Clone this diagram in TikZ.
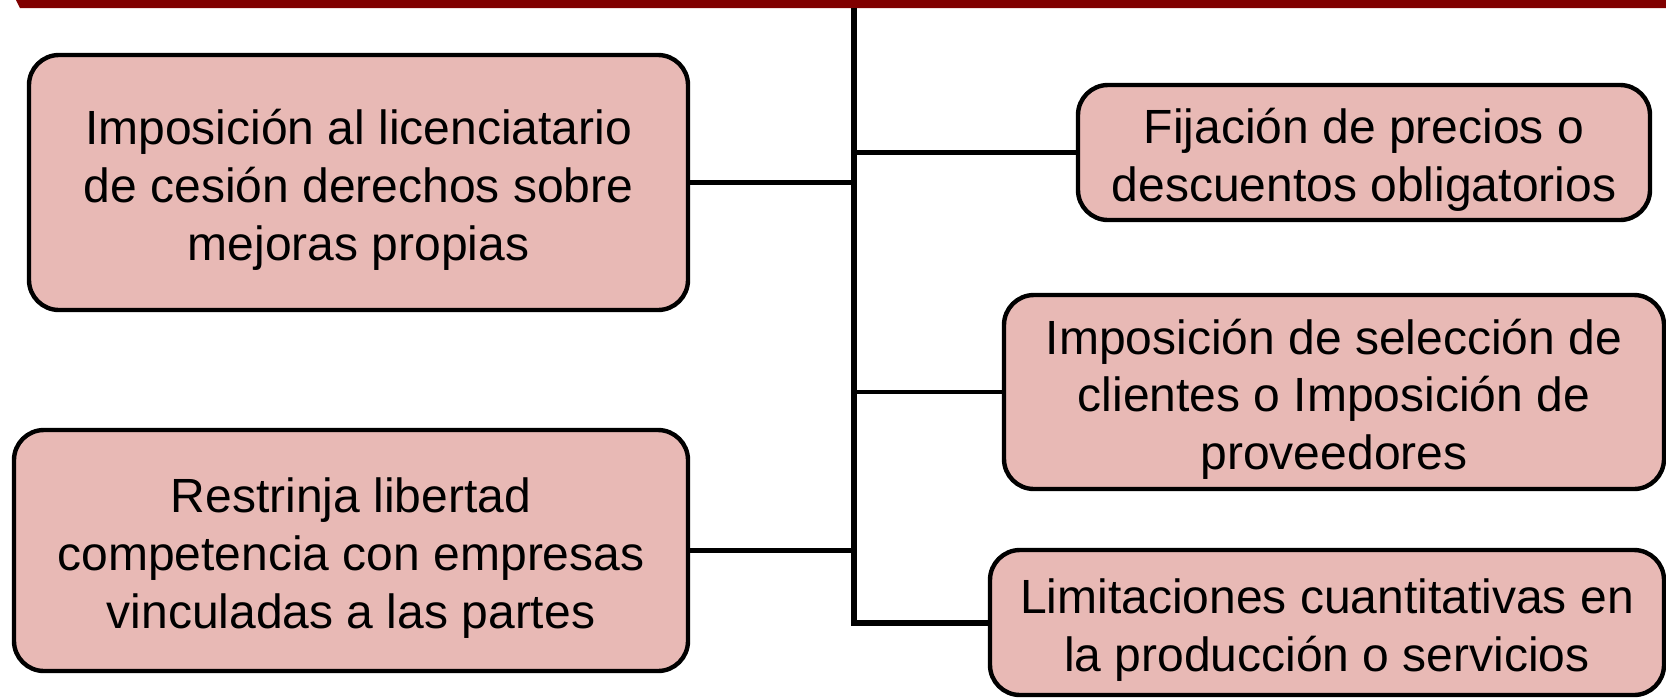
\documentclass[tikz,border=0pt]{standalone}
\usepackage{fontspec}
\setmainfont{Liberation Sans}
\usetikzlibrary{calc}
\definecolor{boxpink}{RGB}{232,185,181}
\definecolor{barred}{RGB}{128,0,0}
\tikzstyle{item}=[draw=black,line width=2.2pt,fill=boxpink,rounded corners=15pt,align=center,font=\fontsize{24}{28.8}\selectfont,inner sep=0pt]
\tikzstyle{branch} = [draw,line width=2.2pt]
\tikzstyle{trunk} = [draw,line width=3pt]
% first and last line get fixed height / depth, so the text sits a bit low
\newcommand{\topline}{\rule{0pt}{25.5pt}}
\newcommand{\botline}{\rule[-5.6pt]{0pt}{5.6pt}}

\begin{document}
\begin{tikzpicture}[x=0.5pt, y=-0.5pt]
\useasboundingbox (0,0) rectangle (1666,698);

% bar on top
\fill[barred] (16,0) -- (1666,0) -- (1666,8) -- (20,8) -- cycle;

% left boxes
\foreach \pos/\w/\h/\name/\txt in {{(358.5,182.5)/659/255/mej/{Imposición al licenciatario\\de cesión derechos sobre\\mejoras propias}},
    {(351,550.5)/674/241/lib/{Restrinja libertad\\competencia con empresas\\vinculadas a las partes}}}
    \node[item,minimum width=\w*0.5pt,minimum height=\h*0.5pt] (\name) at \pos {\topline\txt\botline};

% right boxes
\foreach \pos/\w/\h/\name/\txt in {{(1364,152.5)/572/135/fij/{Fijación de precios o\\descuentos obligatorios}},
    {(1334,392)/660/194/sel/{Imposición de selección de\\clientes o Imposición de\\proveedores}},
    {(1327,622.5)/674/145/lim/{Limitaciones cuantitativas en\\la producción o servicios}}}
    \node[item,minimum width=\w*0.5pt,minimum height=\h*0.5pt] (\name) at \pos {\topline\txt\botline};

% trunk
\coordinate (top) at (854,8);
\path[trunk] (top) |- (lim.west);

% branches
\foreach \name in {mej, lib, fij, sel}
    \path[branch] (\name) -- (\name -| top);

\end{tikzpicture}
\end{document}
